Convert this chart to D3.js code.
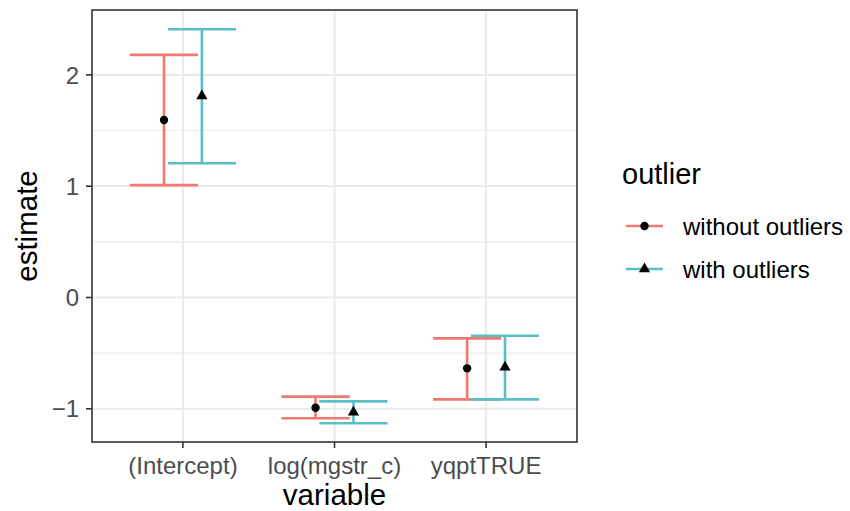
<!DOCTYPE html>
<html>
<head>
<meta charset="utf-8">
<script src="https://d3js.org/d3.v7.min.js"></script>
<style>
  body { margin: 0; background: #fff; }
  text { font-family: "Liberation Sans", Arial, Helvetica, sans-serif; }
</style>
</head>
<body>
<div id="chart"></div>
<script>
// data
const variables = ["(Intercept)", "log(mgstr_c)", "yqptTRUE"];
const groups = ["without outliers", "with outliers"];
const estWithout = [1.595, -0.99, -0.636];
const lowWithout = [1.01, -1.085, -0.915];
const highWithout = [2.18, -0.89, -0.367];
const estWith = [1.81, -1.03, -0.627];
const lowWith = [1.206, -1.13, -0.915];
const highWith = [2.41, -0.933, -0.343];
const yTicks = [-1, 0, 1, 2];
const yMinor = [-0.5, 0.5, 1.5];

const colors = ["#EE7A70", "#5ABFC5"];

const rows = [];
variables.forEach((v, i) => {
  rows.push({ variable: v, group: 0, est: estWithout[i], lo: lowWithout[i], hi: highWithout[i] });
  rows.push({ variable: v, group: 1, est: estWith[i], lo: lowWith[i], hi: highWith[i] });
});

const W = 850, H = 511;
const panel = { left: 92, right: 577, top: 10, bottom: 442 };

const svg = d3.select("#chart").append("svg")
  .attr("width", W).attr("height", H);

// discrete x with ggplot-style 0.6 expansion
const x = d3.scaleLinear().domain([0.4, 3.6]).range([panel.left, panel.right]);
const y = d3.scaleLinear().domain([-1.298, 2.583]).range([panel.bottom, panel.top]);
const dodge = 0.125, capHalf = 0.225;
const xPos = d => x(variables.indexOf(d.variable) + 1 + (d.group === 0 ? -dodge : dodge));

// grid
const g = svg.append("g");
g.selectAll(".minor").data(yMinor).join("line")
  .attr("x1", panel.left).attr("x2", panel.right)
  .attr("y1", d => y(d)).attr("y2", d => y(d))
  .attr("stroke", "#EBEBEB").attr("stroke-width", 1.1);
g.selectAll(".major").data(yTicks).join("line")
  .attr("x1", panel.left).attr("x2", panel.right)
  .attr("y1", d => y(d)).attr("y2", d => y(d))
  .attr("stroke", "#EBEBEB").attr("stroke-width", 2.2);
g.selectAll(".vmajor").data(variables).join("line")
  .attr("x1", (d, i) => x(i + 1)).attr("x2", (d, i) => x(i + 1))
  .attr("y1", panel.top).attr("y2", panel.bottom)
  .attr("stroke", "#EBEBEB").attr("stroke-width", 2.2);

// error bars
const eb = svg.append("g").selectAll("g").data(rows).join("g")
  .attr("stroke", d => colors[d.group]).attr("stroke-width", 2.6).attr("fill", "none");
eb.append("line")
  .attr("x1", xPos).attr("x2", xPos)
  .attr("y1", d => y(d.lo)).attr("y2", d => y(d.hi));
eb.append("line")
  .attr("x1", d => xPos(d) - (x(capHalf) - x(0))).attr("x2", d => xPos(d) + (x(capHalf) - x(0)))
  .attr("y1", d => y(d.hi)).attr("y2", d => y(d.hi));
eb.append("line")
  .attr("x1", d => xPos(d) - (x(capHalf) - x(0))).attr("x2", d => xPos(d) + (x(capHalf) - x(0)))
  .attr("y1", d => y(d.lo)).attr("y2", d => y(d.lo));

// points
const sym = [d3.symbol().type(d3.symbolCircle).size(55), d3.symbol().type(d3.symbolTriangle).size(55)];
svg.append("g").selectAll("path").data(rows).join("path")
  .attr("d", d => sym[d.group]())
  .attr("transform", d => `translate(${xPos(d)},${y(d.est)})`)
  .attr("fill", "#000");

// panel border
svg.append("rect")
  .attr("x", panel.left).attr("y", panel.top)
  .attr("width", panel.right - panel.left).attr("height", panel.bottom - panel.top)
  .attr("fill", "none").attr("stroke", "#333").attr("stroke-width", 1.6);

// y axis
const ya = svg.append("g");
ya.selectAll("line").data(yTicks).join("line")
  .attr("x1", panel.left - 6).attr("x2", panel.left)
  .attr("y1", d => y(d)).attr("y2", d => y(d))
  .attr("stroke", "#333").attr("stroke-width", 1.6);
ya.selectAll("text").data(yTicks).join("text")
  .attr("x", panel.left - 13).attr("y", d => y(d)).attr("dy", "0.36em")
  .attr("text-anchor", "end").attr("font-size", 24).attr("fill", "#4D4D4D")
  .text(d => d < 0 ? "\u2212" + Math.abs(d) : d);

// x axis
const xa = svg.append("g");
xa.selectAll("line").data(variables).join("line")
  .attr("x1", (d, i) => x(i + 1)).attr("x2", (d, i) => x(i + 1))
  .attr("y1", panel.bottom).attr("y2", panel.bottom + 6)
  .attr("stroke", "#333").attr("stroke-width", 1.6);
xa.selectAll("text").data(variables).join("text")
  .attr("x", (d, i) => x(i + 1)).attr("y", panel.bottom + 32)
  .attr("text-anchor", "middle").attr("font-size", 24).attr("fill", "#4D4D4D")
  .text(d => d);

// axis titles
svg.append("text").attr("x", (panel.left + panel.right) / 2).attr("y", 505)
  .attr("text-anchor", "middle").attr("font-size", 29.5).attr("fill", "#000").text("variable");
svg.append("text").attr("transform", `translate(37,${(panel.top + panel.bottom) / 2}) rotate(-90)`)
  .attr("text-anchor", "middle").attr("font-size", 29.5).attr("fill", "#000").text("estimate");

// legend
const lg = svg.append("g");
lg.append("text").attr("x", 622).attr("y", 184).attr("font-size", 29).attr("fill", "#000").text("outlier");
const items = lg.selectAll("g").data(groups).join("g")
  .attr("transform", (d, i) => `translate(0,${226 + i * 43})`);
items.append("line").attr("x1", 626).attr("x2", 663).attr("y1", 0).attr("y2", 0)
  .attr("stroke", (d, i) => colors[i]).attr("stroke-width", 2.6);
items.append("path").attr("d", (d, i) => sym[i]()).attr("transform", "translate(644.5,0)").attr("fill", "#000");
items.append("text").attr("x", 683).attr("y", 0).attr("dy", "0.36em")
  .attr("font-size", 24).attr("fill", "#000").text(d => d);
</script>
</body>
</html>
